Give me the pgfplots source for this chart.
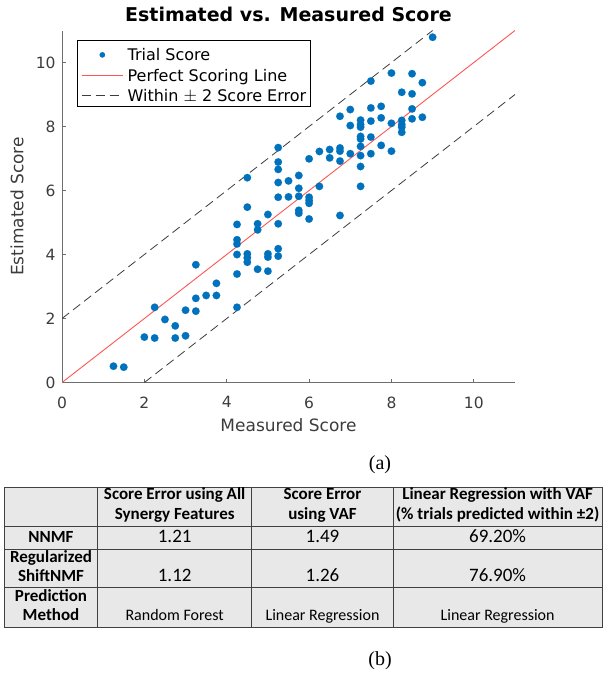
\documentclass[border=0pt]{standalone}
\usepackage{pgfplots}
\pgfplotsset{compat=1.18}
\usepackage{fontspec}
\setmainfont{DejaVu Sans}
\newfontfamily\dejavu{DejaVu Sans}
\newfontfamily\calib{Carlito}
\newfontfamily\timesf{Liberation Serif}
\definecolor{mblue}{RGB}{0,114,189}
\definecolor{mred}{RGB}{255,85,85}
\definecolor{axgray}{RGB}{110,110,110}
\definecolor{lblgray}{RGB}{60,60,60}
\definecolor{tabgray}{RGB}{232,232,232}
\definecolor{dashgray}{RGB}{60,60,60}
\pgfplotsset{
  dotlegend/.style={legend image code/.code={\path[draw=none,fill=none] (0bp,-2bp) -- (41.6bp,-2bp);\draw[##1, mark size=2.7bp] plot coordinates {(20.8bp,-2bp)};}},
  linelegend/.style={legend image code/.code={\draw[##1] (0bp,-2bp) -- (41.6bp,-2bp);}},
}
\pgfplotstableread{
x y
1.25 0.51
1.5 0.48
2.0 1.42
2.25 1.39
2.25 2.35
2.5 1.97
2.75 1.77
2.75 1.39
3.0 2.26
3.0 1.46
3.25 2.23
3.25 2.63
3.25 3.68
3.5 2.72
3.75 2.72
3.75 3.10
4.25 2.35
4.25 3.39
4.25 4.00
4.25 4.33
4.25 4.46
4.25 4.94
4.5 5.48
4.5 4.02
4.5 3.90
4.5 3.76
4.5 6.40
4.75 4.96
4.75 4.77
4.75 3.54
5.0 5.25
5.0 4.02
5.0 3.92
5.0 3.48
5.25 4.96
5.25 4.18
5.25 3.95
5.25 7.34
5.25 6.89
5.25 6.66
5.25 6.25
5.25 5.79
5.5 6.30
5.5 5.80
5.75 6.47
5.75 6.07
5.75 5.82
5.75 5.38
5.75 5.29
6.0 6.99
6.0 5.79
6.0 5.69
6.0 5.60
6.0 5.11
6.25 7.22
6.25 6.13
6.5 7.28
6.5 7.02
6.75 8.32
6.75 7.33
6.75 7.23
6.75 6.92
6.75 5.22
7.0 8.53
7.0 8.03
7.0 7.15
7.25 8.20
7.25 8.06
7.25 7.98
7.25 7.69
7.25 7.61
7.25 7.38
7.25 7.09
7.25 6.75
7.25 6.13
7.5 8.58
7.5 8.17
7.5 9.42
7.5 7.67
7.5 7.15
7.75 8.63
7.75 8.27
7.75 7.41
8.0 9.67
8.0 8.10
8.0 7.23
8.25 9.07
8.25 8.19
8.25 8.06
8.25 7.98
8.25 7.82
8.5 9.65
8.5 9.02
8.5 8.55
8.5 8.24
8.75 9.37
8.75 8.29
9.0 10.79
}\pts
\begin{document}
\begin{tikzpicture}
\path[use as bounding box] (0,0) rectangle (603bp,-679bp);
\begin{axis}[
  at={(62bp,-382.5bp)}, anchor=south west,
  scale only axis, width=453bp, height=352bp,
  xmin=0, xmax=11, ymin=0, ymax=11,
  axis x line*=bottom, axis y line*=left,
  axis line style={draw=axgray, line width=0.7bp, -},
  xtick={0,2,4,6,8,10}, ytick={0,2,4,6,8,10},
  tick align=inside, major tick length=4bp,
  tick style={draw=axgray, line width=0.7bp},
  ticklabel style={font=\dejavu\fontsize{15.5bp}{19bp}\selectfont, text=lblgray},
  xticklabel style={yshift=-10.5bp},
  yticklabel style={xshift=-3bp},
  /pgf/number format/assume math mode=true,
  xlabel={Measured Score}, ylabel={Estimated Score},
  label style={font=\dejavu\fontsize{17bp}{20bp}\selectfont, text=lblgray},
  xlabel style={at={(axis description cs:0.5,-0.122)}, anchor=center},
  ylabel style={at={(axis description cs:-0.0993,0.5)}, anchor=center},
  title={Estimated vs. Measured Score},
  title style={at={(axis description cs:0.5,1.0284)}, anchor=center,
    font=\dejavu\bfseries\fontsize{19bp}{22bp}\selectfont, text=black},
  legend style={at={(axis description cs:0.0338,0.973)}, anchor=north west,
    draw=black, line width=0.6bp, fill=white,
    font=\dejavu\fontsize{16bp}{19bp}\selectfont, text=black,
    inner xsep=3.5bp, inner ysep=3bp, row sep=1.4bp, column sep=3bp,
    nodes={inner sep=1bp, text height=16.5bp, text depth=0.6bp},
    cells={anchor=west}},
  legend cell align=left,
]
\addplot[only marks, mark=*, mark size=3.8bp, mark options={fill=mblue, draw=mblue, line width=0.1bp}, dotlegend]
  table[x=x,y=y] {\pts};
\addlegendentry{Trial Score}
\addplot[mred, line width=0.9bp, no marks, linelegend]
  coordinates {(0,0) (11,11)};
\addlegendentry{Perfect Scoring Line}
\addplot[dashgray, line width=0.8bp, no marks, dash pattern=on 9bp off 5bp, linelegend]
  coordinates {(0,2) (9,11)};
\addlegendentry{Within $\pm$ 2 Score Error}
\addplot[dashgray, line width=0.8bp, no marks, dash pattern=on 9bp off 5bp, forget plot]
  coordinates {(2,0) (11,9)};
\end{axis}

% caption (a)
\node[font=\timesf\fontsize{20bp}{22bp}\selectfont, anchor=mid] at (380bp,-467bp) {(a)};

% table
\fill[tabgray] (4bp,-487bp) rectangle (602bp,-627bp);
\begin{scope}[draw=black!75, line width=0.9bp]
\draw (4bp,-487bp) rectangle (602bp,-627bp);
\draw (97.7bp,-487bp) -- (97.7bp,-627bp);
\draw (251.7bp,-487bp) -- (251.7bp,-627bp);
\draw (393.3bp,-487bp) -- (393.3bp,-627bp);
\draw (4bp,-526.7bp) -- (602bp,-526.7bp);
\draw (4bp,-549bp) -- (602bp,-549bp);
\draw (4bp,-587bp) -- (602bp,-587bp);
\end{scope}
\begin{scope}[every node/.style={font=\calib\fontsize{16bp}{20bp}\selectfont, anchor=mid, inner sep=0pt}]
\node[font=\calib\bfseries\fontsize{17bp}{20bp}\selectfont] at (174.7bp,-497bp) {Score Error using All};
\node[font=\calib\bfseries\fontsize{17bp}{20bp}\selectfont] at (174.7bp,-517bp) {Synergy Features};
\node[font=\calib\bfseries\fontsize{17bp}{20bp}\selectfont] at (322.5bp,-497bp) {Score Error};
\node[font=\calib\bfseries\fontsize{17bp}{20bp}\selectfont] at (322.5bp,-517bp) {using VAF};
\node[font=\calib\bfseries\fontsize{17bp}{20bp}\selectfont] at (497.6bp,-497bp) {Linear Regression with VAF};
\node[font=\calib\bfseries\fontsize{17bp}{20bp}\selectfont] at (497.6bp,-517bp) {(\% trials predicted within ±2)};
\node[font=\calib\bfseries\fontsize{17bp}{20bp}\selectfont] at (51bp,-540bp) {NNMF};
\node[font=\calib\fontsize{19bp}{20bp}\selectfont] at (174.7bp,-540bp) {1.21};
\node[font=\calib\fontsize{19bp}{20bp}\selectfont] at (322.5bp,-540bp) {1.49};
\node[font=\calib\fontsize{19bp}{20bp}\selectfont] at (497.6bp,-540bp) {69.20\%};
\node[font=\calib\bfseries\fontsize{17bp}{20bp}\selectfont] at (51bp,-560bp) {Regularized};
\node[font=\calib\bfseries\fontsize{17bp}{20bp}\selectfont] at (51bp,-579bp) {ShiftNMF};
\node[font=\calib\fontsize{19bp}{20bp}\selectfont] at (174.7bp,-579bp) {1.12};
\node[font=\calib\fontsize{19bp}{20bp}\selectfont] at (322.5bp,-579bp) {1.26};
\node[font=\calib\fontsize{19bp}{20bp}\selectfont] at (497.6bp,-579bp) {76.90\%};
\node[font=\calib\bfseries\fontsize{17bp}{20bp}\selectfont] at (51bp,-599bp) {Prediction};
\node[font=\calib\bfseries\fontsize{17bp}{20bp}\selectfont] at (51bp,-618bp) {Method};
\node at (174.7bp,-618bp) {Random Forest};
\node at (322.5bp,-618bp) {Linear Regression};
\node at (497.6bp,-618bp) {Linear Regression};
\end{scope}

% caption (b)
\node[font=\timesf\fontsize{20bp}{22bp}\selectfont, anchor=mid] at (380bp,-663bp) {(b)};
\end{tikzpicture}
\end{document}
